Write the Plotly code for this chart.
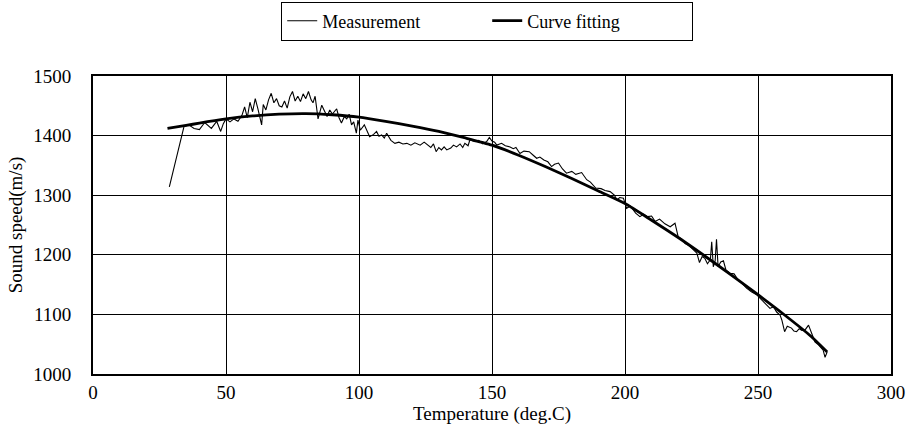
import plotly.graph_objects as go

# Measurement (temperature deg.C, sound speed m/s)
meas_T = [28.7, 34.2, 36, 38, 40, 42, 44.5, 46.5, 48, 49, 50, 51.5, 53, 54.5, 56, 57, 58, 59, 60, 61,
          62, 63.4, 64, 65, 66, 67, 68, 69, 70, 71, 72, 73, 74, 75, 76, 77, 78, 79, 80, 81,
          82, 82.7, 83.5, 84.6, 86, 87, 88, 89, 90, 91.6, 92.5, 93.4, 94.5, 95.4, 96.3, 97.2, 98, 99, 99.6, 100.5,
          101.5, 102, 103, 104, 105.5, 106.6, 107.5, 108.5, 109.5, 110.4, 112, 113.5, 115, 116.5, 118, 119.5, 121, 123, 124.5, 126,
          127, 128, 129, 130, 131, 132, 133, 134.5, 135.5, 136.7, 138, 139, 139.8, 141, 141.7, 143.6, 145, 146.5, 148, 149,
          150, 151, 151.8, 153.6, 155, 156.8, 158, 159, 160.5, 162, 164, 165.5, 166.8, 168, 169.5, 171, 172.4, 173.5, 175, 176.5,
          178, 180, 181.5, 183.7, 185.6, 187, 189, 191, 192.5, 194.4, 196, 197, 198, 199.4, 200.6, 202, 204, 205.6, 207, 208.5,
          210, 211.3, 213, 215, 217, 218.8, 220, 221.5, 222.6, 224, 225.5, 227, 228, 229, 230, 231, 232.1, 232.6, 233.2, 233.9,
          234.4, 235, 236, 237, 238, 239.5, 241, 242.5, 244, 245.7, 247.5, 249.5, 251, 252, 253.5, 254.5, 255.8, 257, 258.3, 259,
          260, 261, 262.6, 263.5, 264.5, 265.5, 266.5, 267.7, 269, 270, 271.4, 272.5, 273.3, 274.5, 275.2, 276]
meas_V = [1314, 1415, 1418, 1412, 1410, 1422, 1412, 1424, 1407, 1420, 1428, 1423, 1428, 1424, 1434, 1448, 1430, 1456, 1440, 1462,
          1445, 1418, 1452, 1443, 1460, 1471, 1455, 1462, 1450, 1448, 1458, 1446, 1465, 1474, 1458, 1466, 1457, 1470, 1462, 1474,
          1460, 1455, 1466, 1428, 1451, 1440, 1432, 1443, 1436, 1445, 1430, 1421, 1432, 1428, 1436, 1418, 1423, 1404, 1426, 1409,
          1415, 1418, 1408, 1398, 1402, 1407, 1399, 1401, 1396, 1404, 1392, 1387, 1389, 1386, 1387, 1384, 1388, 1384, 1389, 1383,
          1380, 1386, 1373, 1380, 1376, 1381, 1376, 1379, 1384, 1381, 1386, 1380, 1387, 1383, 1393, 1390, 1392, 1386, 1390, 1397,
          1391, 1389, 1384, 1387, 1383, 1381, 1378, 1380, 1370, 1374, 1373, 1367, 1362, 1364, 1359, 1356, 1348, 1352, 1354, 1344,
          1337, 1340, 1335, 1338, 1326, 1322, 1312, 1311, 1308, 1306, 1300, 1292, 1296, 1295, 1278, 1282, 1270, 1264, 1268, 1264,
          1265, 1256, 1260, 1252, 1247, 1253, 1230, 1226, 1219, 1216, 1209, 1203, 1187, 1197, 1194, 1185, 1192, 1222, 1180, 1190,
          1226, 1180, 1188, 1190, 1174, 1169, 1168, 1158, 1152, 1144, 1138, 1133, 1126, 1121, 1115, 1110, 1113, 1104, 1099, 1090,
          1071, 1080, 1077, 1072, 1071, 1076, 1073, 1074, 1082, 1071, 1054, 1050, 1046, 1040, 1028, 1037]

# Curve fitting
fit_T = [28, 35, 40, 50, 60, 70, 80, 90, 100, 110, 120, 130, 140, 150, 160, 170, 180, 190, 200,
         210, 220, 230, 240, 250, 260, 270, 276]
fit_V = [1412, 1417, 1421, 1428, 1433, 1436, 1437, 1435, 1431, 1424, 1416, 1407, 1396, 1384, 1367, 1348, 1328, 1307, 1286,
         1258, 1229, 1198, 1166, 1133, 1099, 1063, 1037]

x_ticks = [0, 50, 100, 150, 200, 250, 300]
y_ticks = [1000, 1100, 1200, 1300, 1400, 1500]

FONT = "Liberation Serif, Times New Roman, serif"

fig = go.Figure()
fig.add_trace(go.Scatter(x=meas_T, y=meas_V, mode="lines", name="Measurement",
                         line=dict(color="black", width=1.1)))
fig.add_trace(go.Scatter(x=fit_T, y=fit_V, mode="lines", name="Curve fitting",
                         line=dict(color="black", width=2.8, shape="spline", smoothing=0.6)))

fig.update_layout(
    width=913, height=443,
    margin=dict(l=93, r=22, t=76, b=69, autoexpand=False),
    paper_bgcolor="white", plot_bgcolor="white",
    font=dict(family=FONT, size=18, color="black"),
    showlegend=True,
    legend=dict(orientation="h", x=0.494, xanchor="center", y=1.25, yanchor="top",
                bordercolor="black", borderwidth=1, bgcolor="white",
                font=dict(family=FONT, size=18, color="black"),
                entrywidth=160, entrywidthmode="pixels", tracegroupgap=0),
    xaxis=dict(range=[0, 300], tickvals=x_ticks, ticktext=[str(v) for v in x_ticks],
               showgrid=True, gridcolor="black", gridwidth=1,
               showline=True, linecolor="black", linewidth=2, mirror=True,
               ticks="", zeroline=False, tickfont=dict(size=19),
               title=dict(text="Temperature (deg.C)", font=dict(size=19), standoff=4)),
    yaxis=dict(range=[1000, 1500], tickvals=y_ticks, ticktext=[str(v) for v in y_ticks],
               showgrid=True, gridcolor="black", gridwidth=1,
               showline=True, linecolor="black", linewidth=2, mirror=True,
               ticks="", zeroline=False, tickfont=dict(size=19), ticklabelstandoff=16,
               title=dict(text="Sound speed(m/s)", font=dict(size=19), standoff=6)),
)

fig.write_html("out.html")
